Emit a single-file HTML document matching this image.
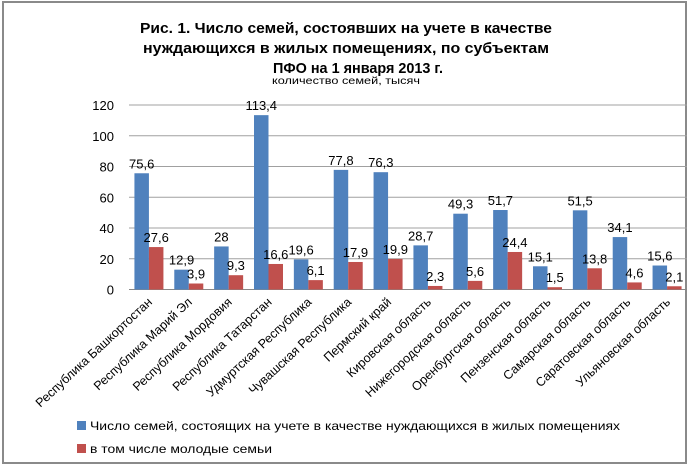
<!DOCTYPE html>
<html><head><meta charset="utf-8"><style>
html,body{margin:0;padding:0;background:#fff;}
svg{display:block;font-family:"Liberation Sans","DejaVu Sans",sans-serif;}
</style></head><body>
<svg id="chart" width="690" height="470" viewBox="0 0 690 470" xmlns="http://www.w3.org/2000/svg">
<rect x="3" y="2" width="683" height="461" fill="#fff" stroke="#8a8a8a" stroke-width="2"/>
<g font-weight="bold" font-size="15" text-anchor="middle" fill="#000">
<text x="346" y="33" textLength="412" lengthAdjust="spacingAndGlyphs">Рис. 1. Число семей, состоявших на учете в качестве</text>
<text x="346" y="53" textLength="406" lengthAdjust="spacingAndGlyphs">нуждающихся в жилых помещениях, по субъектам</text>
<text x="358" y="73" textLength="170" lengthAdjust="spacingAndGlyphs">ПФО на 1 января 2013 г.</text>
</g>
<text x="346" y="84" font-size="10" text-anchor="middle" textLength="148" lengthAdjust="spacingAndGlyphs">количество семей, тысяч</text>
<g id="grid"></g><g id="yticks"></g><g id="bars"></g><g id="labels"></g><g id="xlabels"></g>
<g font-size="12">
<rect x="77" y="421" width="9" height="9" fill="#4f81bd"/>
<text x="90" y="430" textLength="530" lengthAdjust="spacingAndGlyphs">Число семей, состоящих на учете в качестве нуждающихся в жилых помещениях</text>
<rect x="77" y="444" width="9" height="9" fill="#c0504d"/>
<text x="90" y="453" textLength="182" lengthAdjust="spacingAndGlyphs">в том числе молодые семьи</text>
</g>
</svg>
<script>
const categories=["Республика Башкортостан","Республика Марий Эл","Республика Мордовия","Республика Татарстан","Удмуртская Республика","Чувашская Республика","Пермский край","Кировская область","Нижегородская область","Оренбургская область","Пензенская область","Самарская область","Саратовская область","Ульяновская область"];
const totalFamilies=[75.6,12.9,28,113.4,19.6,77.8,76.3,28.7,49.3,51.7,15.1,51.5,34.1,15.6];
const youngFamilies=[27.6,3.9,9.3,16.6,6.1,17.9,19.9,2.3,5.6,24.4,1.5,13.8,4.6,2.1];
const yTicks=[0,20,40,60,80,100,120];

const NS="http://www.w3.org/2000/svg";
const X0=129,X1=687,Y0=289.5,Ytop=105,YMAX=120;
const band=(X1-X0)/categories.length;
function y(v){return Y0-(v/YMAX)*(Y0-Ytop);}
function xc(i){return X0+band*(i+0.5);}
function mk(tag,attrs,parent){const e=document.createElementNS(NS,tag);for(const k in attrs)e.setAttribute(k,attrs[k]);parent.appendChild(e);return e;}
function fmt(v){return String(v).replace('.',',');}
const grid=document.getElementById('grid'),yt=document.getElementById('yticks'),bars=document.getElementById('bars'),labels=document.getElementById('labels'),xl=document.getElementById('xlabels');
yTicks.forEach(t=>{
  const l=mk('line',{x1:X0,x2:X1,y1:y(t),y2:y(t),stroke:'#a0a0a0','stroke-width':1},grid);
  
  
  const tx=mk('text',{x:114,y:y(t)+5,'font-size':13,'text-anchor':'end'},yt);
  tx.textContent=t;
  
  
});
const bw=14.5;
categories.forEach((c,i)=>{
  const cx=xc(i);
  const b1=mk('rect',{x:cx-bw,y:y(totalFamilies[i]),width:bw,height:Y0-y(totalFamilies[i]),fill:'#4f81bd'},bars);
  
  
  const b2=mk('rect',{x:cx,y:y(youngFamilies[i]),width:bw,height:Y0-y(youngFamilies[i]),fill:'#c0504d'},bars);
  
  
  const l1=mk('text',{x:cx-bw/2,y:y(totalFamilies[i])-5,'font-size':13,'text-anchor':'middle'},labels);
  l1.textContent=fmt(totalFamilies[i]);
  
  
  const l2=mk('text',{x:cx+bw/2,y:y(youngFamilies[i])-5,'font-size':13,'text-anchor':'middle'},labels);
  l2.textContent=fmt(youngFamilies[i]);
  
  
  const xt=mk('text',{x:0,y:0,'font-size':12.5,'text-anchor':'end',transform:'translate('+(cx+4)+',303) rotate(-43)'},xl);
  xt.textContent=c;
  
  
});
mk('line',{x1:X0,x2:X1,y1:Y0,y2:Y0,stroke:'#888','stroke-width':1},grid);
</script>
</body></html>
